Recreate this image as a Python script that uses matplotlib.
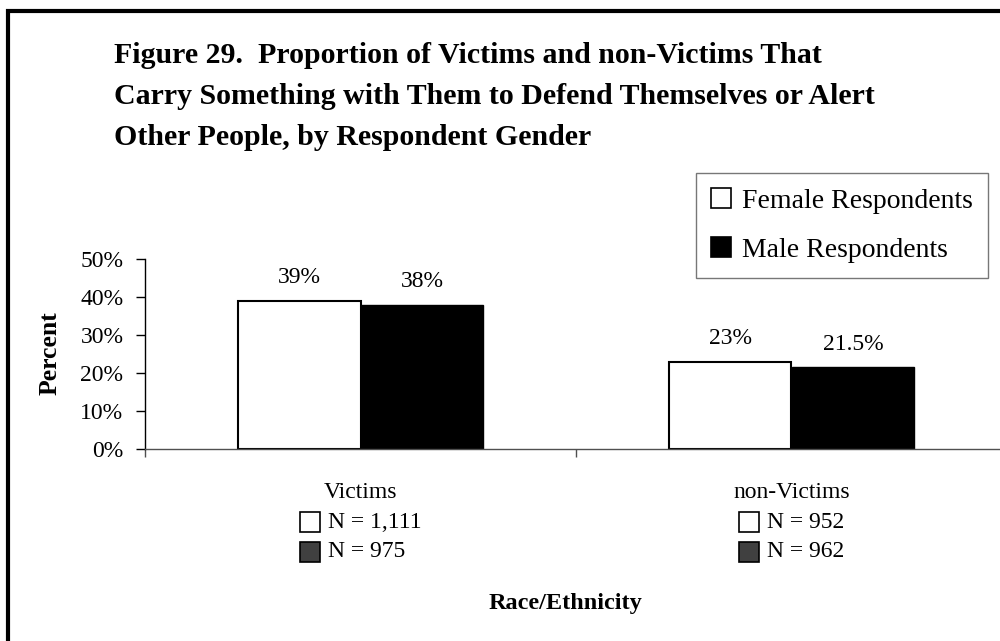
import matplotlib
matplotlib.use("Agg")
import matplotlib.pyplot as plt
from matplotlib.patches import Patch, Rectangle
from matplotlib.lines import Line2D
from matplotlib.offsetbox import TextArea, DrawingArea, HPacker, VPacker, AnnotationBbox
from matplotlib.ticker import PercentFormatter

plt.rcParams['font.family'] = ['Liberation Serif', 'DejaVu Serif']

# ---- data ----
categories = ["Victims", "non-Victims"]
female_pct = [39, 23]
male_pct = [38, 21.5]
female_n = ["1,111", "952"]
male_n = ["975", "962"]
series_names = ["Female Respondents", "Male Respondents"]
title_lines = ["Figure 29.  Proportion of Victims and non-Victims That",
               "Carry Something with Them to Defend Themselves or Alert",
               "Other People, by Respondent Gender"]
y_ticks = [0, 10, 20, 30, 40, 50]
x_title = "Race/Ethnicity"
y_title = "Percent"

W, H = 1000, 641
fig = plt.figure(figsize=(W / 100, H / 100), dpi=100)

# outer frame (cut at right and bottom)
fig.add_artist(Line2D([0.008, 0.008, 1.01], [-0.01, 0.9824, 0.9824],
                      transform=fig.transFigure, color='black', lw=3.0,
                      solid_joinstyle='miter'))

# title
for k, line in enumerate(title_lines):
    yb = [63, 104, 145][k]
    fig.text(0.114, 1 - yb / H, line, fontsize=21.5, fontweight='bold',
             va='baseline', ha='left')

ax = fig.add_axes([0.145, 1 - 449 / H, 0.862, 190 / H])
x = list(range(len(categories)))
bw = 0.285
fb = ax.bar([i - bw / 2 for i in x], female_pct, width=bw, color='white',
            edgecolor='black', linewidth=1.5, label=series_names[0])
mb = ax.bar([i + bw / 2 for i in x], male_pct, width=bw, color='black',
            edgecolor='black', linewidth=1.0, label=series_names[1])

def fmt(v):
    return f"{v:g}%"

ax.bar_label(fb, labels=[fmt(v) for v in female_pct], padding=9, fontsize=17)
ax.bar_label(mb, labels=[fmt(v) for v in male_pct], padding=9, fontsize=17)

ax.set_xlim(-0.5, len(categories) - 0.5)
ax.set_ylim(0, 50)
ax.set_yticks(y_ticks)
ax.yaxis.set_major_formatter(PercentFormatter(decimals=0))
ax.set_xticks([i - 0.5 for i in range(len(categories) + 1)])
ax.set_xticklabels([])
for s in ['top', 'right']:
    ax.spines[s].set_visible(False)
ax.spines['left'].set_color('black')
ax.spines['bottom'].set_color('#505050')
ax.spines['left'].set_linewidth(1.0)
ax.spines['bottom'].set_linewidth(1.0)
ax.tick_params(axis='y', direction='out', length=6.5, width=1, pad=9, labelsize=17)
ax.tick_params(axis='x', direction='out', length=5.5, width=1, color='#505050')

fig.text(0.05, 1 - 353 / H, y_title, rotation=90, fontsize=18.5,
         fontweight='bold', ha='center', va='center')
fig.text(0.565, 1 - 603 / H, x_title, fontsize=17.5, fontweight='bold',
         ha='center', va='center')

# legend
handles = [Patch(facecolor='white', edgecolor='black', lw=1.2),
           Patch(facecolor='black', edgecolor='black', lw=1.2)]
leg = fig.legend(handles, series_names, loc='upper right',
                 bbox_to_anchor=(0.988, 1 - 173 / H), bbox_transform=fig.transFigure,
                 borderaxespad=0, fontsize=20, frameon=True, fancybox=False,
                 edgecolor='#555555', handlelength=0.7, handleheight=0.7,
                 handletextpad=0.4, borderpad=0.55, labelspacing=0.85)
leg.get_frame().set_linewidth(1.0)

# category labels with N counts
def row(fc, text):
    da = DrawingArea(15, 15, 0, 0)
    da.add_artist(Rectangle((0, 0), 14.5, 14.5, facecolor=fc, edgecolor='black', lw=1.2))
    ta = TextArea(text, textprops=dict(fontsize=17))
    return HPacker(children=[da, ta], align='center', pad=0, sep=5)

for i, cat in enumerate(categories):
    rows = VPacker(children=[row('white', f"N = {female_n[i]}"),
                             row('#404040', f"N = {male_n[i]}")],
                   align='left', pad=0, sep=6)
    block = VPacker(children=[TextArea(cat, textprops=dict(fontsize=17)), rows],
                    align='center', pad=0, sep=6)
    ab = AnnotationBbox(block, (i, 1 - 522 / H), xycoords=('data', 'figure fraction'),
                        box_alignment=(0.5, 0.5), frameon=False, pad=0,
                        annotation_clip=False)
    ax.add_artist(ab)

fig.savefig("out.png", dpi=100)
